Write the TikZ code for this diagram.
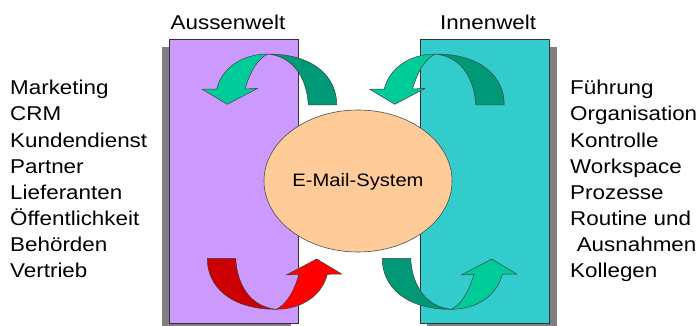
\documentclass[tikz,border=0pt]{standalone}
\usepackage{fontspec}
\setmainfont{Liberation Sans}[FakeStretch=1.12]
\definecolor{purplebox}{HTML}{CC99FF}
\definecolor{cyanbox}{HTML}{33CCCC}
\definecolor{peach}{HTML}{FFCC99}
\definecolor{shadowgray}{HTML}{808080}
\definecolor{darkgreen}{HTML}{009977}
\definecolor{lightgreen}{HTML}{00CC99}
\definecolor{darkred}{HTML}{CC0000}
\definecolor{lightred}{HTML}{FF0000}
\tikzset{
  listtext/.style={anchor=base west, inner sep=0pt, font=\fontsize{20}{24}\selectfont},
  headtext/.style={anchor=base west, inner sep=0pt, font=\fontsize{20}{24}\selectfont},
  arrowedge/.style={draw=black!75, line width=0.5pt, line join=round},
  panel/.style={draw=black!80, line width=0.7pt},
  shadowbox/.style={fill=shadowgray, draw=none}
}
\newcommand{\mycurvedarrow}[2]{%
  \path[arrowedge, fill=#1] (268,54) .. controls (315,54) and (337,78) .. (336.7,105)
    -- (308.3,105) .. controls (307,80) and (295,57) .. (268,54) -- cycle;
  \path[arrowedge, fill=#2] (268,54) .. controls (242,54) and (222,68) .. (216.7,89)
    -- (202.3,89.3) -- (227.3,104.3) -- (257.7,88.3) -- (245,89)
    .. controls (250,72) and (258,58) .. (268,54) -- cycle;
}
\begin{document}
\begin{tikzpicture}[x=1pt,y=-1pt]
\clip (0,0) rectangle (698,326);
\fill[white] (0,0) rectangle (698,326);
% panels with shadows
\path[shadowbox] (162,47) rectangle (291,331);
\path[shadowbox] (427,47) rectangle (557,331);
\node[panel, fill=purplebox, minimum width=129pt, minimum height=284pt, inner sep=0pt, anchor=north west] (aussen) at (169.3,39.3) {};
\node[panel, fill=cyanbox, minimum width=129pt, minimum height=284pt, inner sep=0pt, anchor=north west] (innen) at (420.3,39.3) {};
% ellipse
\path[draw=black!70, line width=0.6pt, fill=peach] (358,181) ellipse [x radius=94, y radius=71];
\node[font=\fontsize{18}{22}\selectfont, inner sep=0pt] (mail) at (358,181.5) {E-Mail-System};
% headings
\node[headtext] (hAussen) at (170.5,29.3) {Aussenwelt};
\node[headtext] (hInnen) at (440,30) {Innenwelt};
% arrows
\mycurvedarrow{darkgreen}{lightgreen}
\begin{scope}[shift={(167.5,0)}]
  \mycurvedarrow{darkgreen}{lightgreen}
\end{scope}
\begin{scope}[shift={(544,363.3)}]
  \begin{scope}[xscale=-1, yscale=-1]
    \mycurvedarrow{darkred}{lightred}
  \end{scope}
\end{scope}
\begin{scope}[shift={(719,363.3)}]
  \begin{scope}[xscale=-1, yscale=-1]
    \mycurvedarrow{darkgreen}{lightgreen}
  \end{scope}
\end{scope}
% left list
\node[listtext] (l1) at (10,95) {Marketing};
\node[listtext] (l2) at (10,121) {CRM};
\node[listtext] (l3) at (10,147) {Kundendienst};
\node[listtext] (l4) at (10,173) {Partner};
\node[listtext] (l5) at (10,199) {Lieferanten};
\node[listtext] (l6) at (10,225) {Öffentlichkeit};
\node[listtext] (l7) at (10,251) {Behörden};
\node[listtext] (l8) at (10,277) {Vertrieb};
% right list
\node[listtext] (r1) at (570,95) {Führung};
\node[listtext] (r2) at (570,121) {Organisation};
\node[listtext] (r3) at (570,147) {Kontrolle};
\node[listtext] (r4) at (570,173) {Workspace};
\node[listtext] (r5) at (570,199) {Prozesse};
\node[listtext] (r6) at (570,225) {Routine und};
\node[listtext] (r7) at (570,251) {\hspace{0.33em}Ausnahmen};
\node[listtext] (r8) at (570,277) {Kollegen};
\end{tikzpicture}
\end{document}
